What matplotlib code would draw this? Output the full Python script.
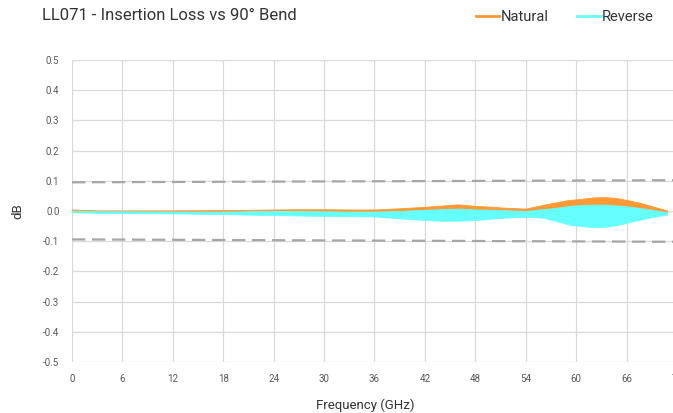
import numpy as np
import matplotlib.pyplot as plt
from matplotlib.lines import Line2D

plt.rcParams['font.family'] = ['Roboto', 'DejaVu Sans']

# Frequency knots (GHz) and envelopes of the noisy traces (dB)
freq = [0, 3, 6, 12, 18, 21, 24, 27, 30, 33, 36, 39, 42, 44, 46, 48,
        50, 52, 54, 56, 57.5, 59, 60.5, 62, 63.5, 65, 66.5, 68, 69.5, 70.8]

natural_hi = [0.005, 0.002, 0.002, 0.002, 0.003, 0.004, 0.005, 0.006, 0.006,
              0.005, 0.005, 0.009, 0.014, 0.018, 0.022, 0.017, 0.014, 0.010,
              0.008, 0.020, 0.028, 0.036, 0.040, 0.045, 0.046, 0.042, 0.034,
              0.024, 0.012, 0.002]
natural_lo = [-0.002, -0.004, -0.004, -0.005, -0.005, -0.004, -0.003, -0.003,
              -0.004, -0.004, -0.004, -0.002, 0.000, 0.002, 0.004, 0.002,
              0.001, -0.001, -0.003, 0.000, 0.004, 0.008, 0.012, 0.014,
              0.014, 0.012, 0.010, 0.004, -0.002, -0.008]

reverse_hi = [0.001, -0.001, -0.001, -0.002, -0.002, -0.001, 0.000, 0.000,
              -0.001, -0.002, -0.002, 0.000, 0.004, 0.006, 0.008, 0.005,
              0.004, 0.002, 0.000, 0.006, 0.010, 0.016, 0.020, 0.021,
              0.021, 0.018, 0.014, 0.008, 0.002, -0.004]
reverse_lo = [-0.004, -0.006, -0.007, -0.008, -0.010, -0.012, -0.013, -0.015,
              -0.016, -0.017, -0.018, -0.024, -0.030, -0.032, -0.032, -0.030,
              -0.025, -0.021, -0.019, -0.022, -0.032, -0.044, -0.050, -0.053,
              -0.052, -0.046, -0.036, -0.026, -0.018, -0.012]

# Limit lines
limit_freq = [0, 72]
limit_upper = [0.095, 0.102]
limit_lower = [-0.094, -0.102]

x_ticks = [0, 6, 12, 18, 24, 30, 36, 42, 48, 54, 60, 66, 72]
y_ticks = [-0.5, -0.4, -0.3, -0.2, -0.1, 0.0, 0.1, 0.2, 0.3, 0.4, 0.5]

orange = '#ff9933'
cyan = '#66ffff'
grey_txt = '#595959'

fig = plt.figure(figsize=(6.73, 4.13), dpi=100)
ax = fig.add_axes([72/673, 51/413, 605/673, 302/413])

ax.fill_between(freq, natural_lo, natural_hi, color=orange, lw=0.6, zorder=3)
ax.fill_between(freq, reverse_lo, reverse_hi, color=cyan, lw=0.6, zorder=4)

ax.plot(limit_freq, limit_upper, color='#a6a6a6', lw=1.6, dashes=(6, 3), zorder=2)
ax.plot(limit_freq, limit_lower, color='#a6a6a6', lw=1.6, dashes=(6, 3), zorder=2)

ax.set_xlim(0, 72)
ax.set_ylim(-0.5, 0.5)
ax.set_xticks(x_ticks)
ax.set_yticks(y_ticks)
ax.set_xticklabels([str(t) for t in x_ticks])
ax.set_yticklabels(['%.1f' % t for t in y_ticks])
ax.grid(True, color='#d9d9d9', lw=0.9)
ax.set_axisbelow(True)
for s in ax.spines.values():
    s.set_visible(False)
ax.tick_params(length=0, labelsize=7, colors=grey_txt, pad=9)

# axis titles placed in figure pixels
fig.text(365/673, 1 - 405/413, 'Frequency (GHz)', fontsize=9.5,
         color='#333333', ha='center', va='center')
fig.text(18/673, 1 - 211/413, 'dB', fontsize=9.5, color='#333333',
         ha='center', va='center', rotation=90)

fig.text(42/673, 1 - 16/413, 'LL071 - Insertion Loss vs 90° Bend',
         fontsize=12, color='#333333', va='center', ha='left')

handles = [Line2D([], [], color=orange, lw=2), Line2D([], [], color=cyan, lw=2)]
fig.legend(handles, ['Natural', 'Reverse'], loc='center right',
           bbox_to_anchor=(654/673, 1 - 17/413), ncol=2, frameon=False,
           fontsize=10.5, handlelength=1.6, handletextpad=0.1, columnspacing=2.0,
           labelcolor='#333333', borderpad=0, borderaxespad=0)

fig.savefig('out.png', dpi=100)
